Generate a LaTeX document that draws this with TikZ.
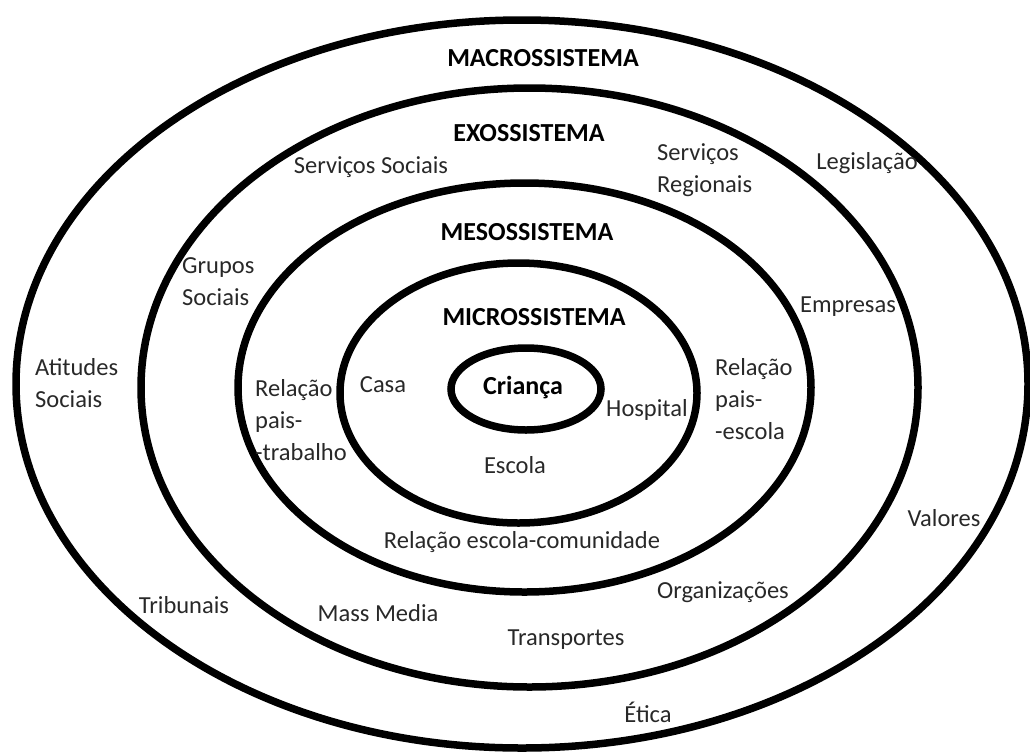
\documentclass[tikz,border=0pt]{standalone}
\usepackage{fontspec}
\setmainfont{Carlito}
\definecolor{txtgray}{RGB}{40,40,40}

\begin{document}
\begin{tikzpicture}[x=1pt, y=-1pt,
        ring/.style={line width=7.5pt},
        level/.style={font=\fontsize{26}{32}\selectfont\bfseries, inner sep=0pt},
        item/.style={font=\fontsize{24.5}{32}\selectfont, text=txtgray, inner sep=0pt, align=left}]
        \useasboundingbox (0,0) rectangle (1030,753);

        \draw[ring] (522,384) ellipse (506 and 364);
        \draw[ring] (529.5,387.5) ellipse (388.5 and 299.5);
        \draw[ring] (524.5,387.5) ellipse (286.5 and 204.5);
        \draw[ring] (518.5,393) ellipse (178.5 and 130);
        \draw[ring] (526,389) ellipse (75 and 41);

        \node[level] (macro) at (543,58) {MACROSSISTEMA};
        \node[level] (exo) at (529,133) {EXOSSISTEMA};
        \node[level] (meso) at (527,232) {MESOSSISTEMA};
        \node[level] (micro) at (534,317) {MICROSSISTEMA};
        \node[level] (crianca) at (523,388) {Criança};

        \node[item] (casa) at (383,385) {Casa};
        \node[item] (hospital) at (647,410) {Hospital};
        \node[item] (escola) at (515,465) {Escola};

        \node[item, anchor=west] (reltrab) at (255,420) {Relação\\pais-\\-trabalho};
        \node[item, anchor=west] (relesc) at (715,399) {Relação\\pais-\\-escola};
        \node[item] (relcom) at (522,542) {Relação escola-comunidade};

        \node[item] (servsoc) at (371,167) {Serviços Sociais};
        \node[item, anchor=west] (servreg) at (657,170) {Serviços\\Regionais};
        \node[item, anchor=west] (grupos) at (182,282) {Grupos\\Sociais};
        \node[item] (empresas) at (848,307) {Empresas};
        \node[item] (organiz) at (723,592) {Organizações};
        \node[item] (transp) at (566,640) {Transportes};
        \node[item] (media) at (378,613) {Mass Media};

        \node[item] (legis) at (867,163) {Legislação};
        \node[item, anchor=west] (atitudes) at (35,383) {Atitudes\\Sociais};
        \node[item] (valores) at (944,518) {Valores};
        \node[item] (etica) at (648,712) {Ética};
        \node[item] (tribunais) at (184,605) {Tribunais};

\end{tikzpicture}
\end{document}
